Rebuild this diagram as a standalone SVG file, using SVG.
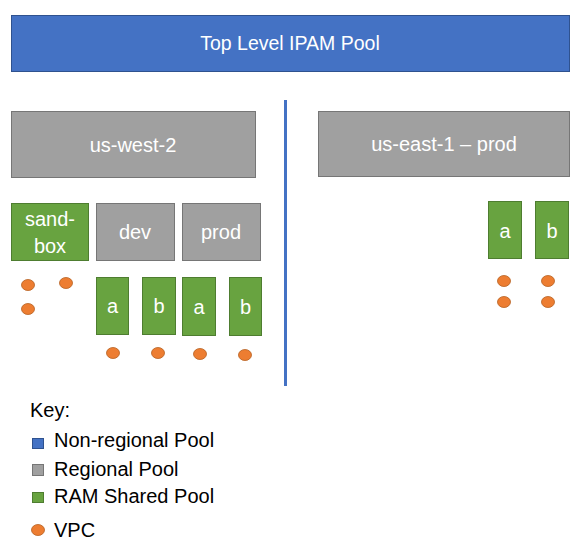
<svg xmlns="http://www.w3.org/2000/svg" width="584" height="552" viewBox="0 0 584 552">
<style>
text{font-family:"Liberation Sans",Arial,sans-serif;font-size:20px;}
.lbl{fill:#ffffff;text-anchor:middle;}
.key{fill:#000000;}
.blue{fill:#4472C4;stroke:#2F528F;stroke-width:1;}
.gray{fill:#A0A0A0;stroke:#767676;stroke-width:1;}
.green{fill:#68A340;stroke:#4E7D30;stroke-width:1;}
.vpc{fill:#ED7D31;stroke:#B5601F;stroke-width:0.8;}
</style>
<rect width="584" height="552" fill="#ffffff"/>
<g id="connectors">
<line x1="285.5" y1="100" x2="285.5" y2="386" stroke="#4472C4" stroke-width="3"/>
</g>
<g id="top-pool"><rect class="blue" x="11.5" y="15.5" width="558" height="56"/><text class="lbl" x="290" y="50" style="font-size:19.5px">Top Level IPAM Pool</text></g>
<g id="us-west-2"><rect class="gray" x="11.5" y="111.5" width="244" height="66"/><text class="lbl" x="133" y="152">us-west-2</text></g>
<g id="us-east-1-prod"><rect class="gray" x="318.5" y="111.5" width="251" height="65"/><text class="lbl" x="444" y="151">us-east-1 – prod</text></g>
<g id="sandbox"><rect class="green" x="11.5" y="203.5" width="77" height="57"/><text class="lbl" x="50" y="226">sand-</text><text class="lbl" x="50" y="253">box</text></g>
<g id="dev"><rect class="gray" x="96.5" y="203.5" width="78" height="57"/><text class="lbl" x="135" y="239">dev</text></g>
<g id="prod"><rect class="gray" x="182.5" y="203.5" width="78" height="57"/><text class="lbl" x="221" y="239">prod</text></g>
<g id="dev-a"><rect class="green" x="96.5" y="277.5" width="32" height="57"/><text class="lbl" x="112.5" y="313">a</text></g>
<g id="dev-b"><rect class="green" x="142.5" y="277.5" width="33" height="57"/><text class="lbl" x="159" y="313">b</text></g>
<g id="prod-a"><rect class="green" x="182.5" y="277.5" width="33" height="58"/><text class="lbl" x="199" y="314">a</text></g>
<g id="prod-b"><rect class="green" x="229.5" y="277.5" width="32" height="58"/><text class="lbl" x="245.5" y="314">b</text></g>
<g id="east-a"><rect class="green" x="488.5" y="201.5" width="33" height="57"/><text class="lbl" x="505" y="238">a</text></g>
<g id="east-b"><rect class="green" x="535.5" y="201.5" width="33" height="57"/><text class="lbl" x="552" y="238">b</text></g>
<g id="vpcs">
<ellipse class="vpc" cx="28" cy="285" rx="6.5" ry="5.5"/>
<ellipse class="vpc" cx="66" cy="283" rx="6.5" ry="5.5"/>
<ellipse class="vpc" cx="28" cy="309" rx="6.5" ry="5.5"/>
<ellipse class="vpc" cx="113" cy="353" rx="6.5" ry="5.5"/>
<ellipse class="vpc" cx="158" cy="353" rx="6.5" ry="5.5"/>
<ellipse class="vpc" cx="200" cy="354" rx="6.5" ry="5.5"/>
<ellipse class="vpc" cx="245" cy="355" rx="6.5" ry="5.5"/>
<ellipse class="vpc" cx="504" cy="281" rx="6.5" ry="5.5"/>
<ellipse class="vpc" cx="548" cy="281" rx="6.5" ry="5.5"/>
<ellipse class="vpc" cx="504" cy="302" rx="6.5" ry="5.5"/>
<ellipse class="vpc" cx="548" cy="302" rx="6.5" ry="5.5"/>
</g>
<g id="key">
<text class="key" x="30" y="417">Key:</text>
<rect class="blue" x="32.5" y="438.5" width="11" height="10"/>
<text class="key" x="54" y="447">Non-regional Pool</text>
<rect class="gray" x="32.5" y="464.5" width="11" height="11"/>
<text class="key" x="54" y="476">Regional Pool</text>
<rect class="green" x="32.5" y="492.5" width="11" height="10"/>
<text class="key" x="54" y="503">RAM Shared Pool</text>
<ellipse class="vpc" cx="38" cy="530" rx="6.5" ry="5.5"/>
<text class="key" x="54" y="537">VPC</text>
</g>
</svg>
